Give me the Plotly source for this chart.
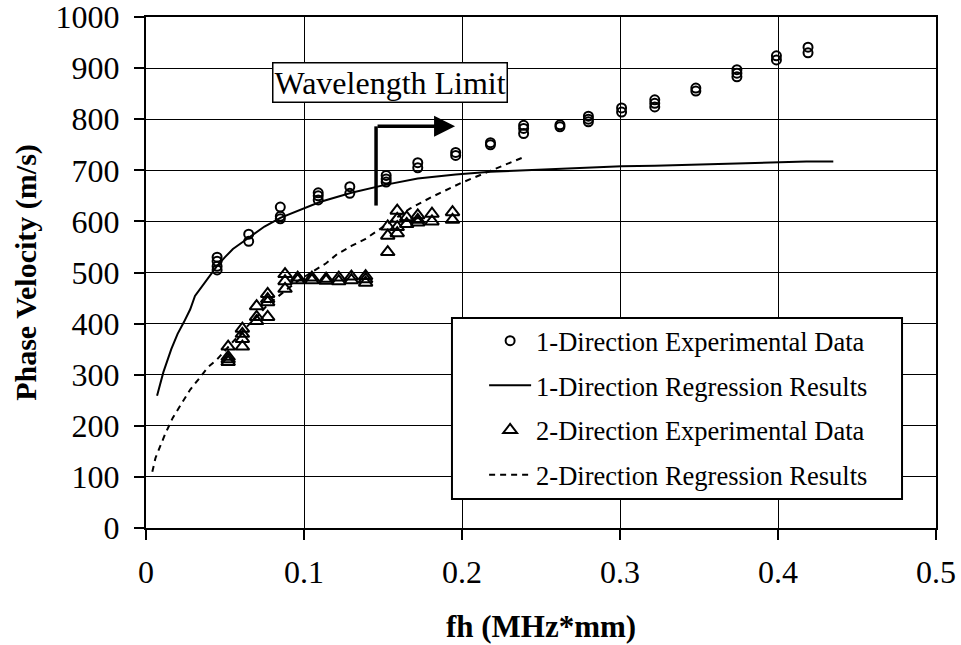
import plotly.graph_objects as go

# 1-direction measurements (fh in MHz*mm, phase velocity in m/s)
dir1_x = [0.045, 0.045, 0.045, 0.045, 0.065, 0.065, 0.085, 0.085, 0.085,
          0.109, 0.109, 0.109, 0.129, 0.129, 0.152, 0.152, 0.152, 0.172, 0.172,
          0.196, 0.196, 0.218, 0.218, 0.239, 0.239, 0.239, 0.262, 0.262,
          0.280, 0.280, 0.280, 0.301, 0.301, 0.322, 0.322, 0.322, 0.348, 0.348,
          0.374, 0.374, 0.374, 0.399, 0.399, 0.419, 0.419]
dir1_y = [530, 522, 512, 505, 575, 561, 628, 610, 605,
          656, 650, 642, 668, 655, 690, 683, 677, 715, 705,
          735, 729, 754, 750, 788, 782, 772, 789, 785,
          806, 800, 795, 822, 814, 838, 831, 824, 861, 855,
          897, 890, 883, 924, 916, 941, 930]

# 1-direction regression curve
fit1_x = [0.007, 0.011, 0.016, 0.020, 0.024, 0.028, 0.031, 0.036, 0.041, 0.045,
          0.050, 0.055, 0.065, 0.075, 0.085, 0.095, 0.110, 0.130, 0.152, 0.172,
          0.196, 0.218, 0.239, 0.262, 0.280, 0.301, 0.322, 0.348, 0.374, 0.399,
          0.418, 0.435]
fit1_y = [259, 305, 350, 380, 403, 428, 454, 475, 495, 513,
          530, 546, 568, 590, 607, 620, 638, 656, 672, 684,
          692, 697, 700, 703, 705, 708, 709, 711, 713, 716,
          717, 717]

# 2-direction measurements
dir2_x = [0.052, 0.052, 0.052, 0.052, 0.061, 0.061, 0.061, 0.061,
          0.070, 0.070, 0.070, 0.077, 0.077, 0.077, 0.077, 0.088, 0.088, 0.088,
          0.096, 0.096, 0.105, 0.105, 0.114, 0.114, 0.122, 0.122, 0.130, 0.130,
          0.139, 0.139, 0.139, 0.153, 0.153, 0.153, 0.159, 0.159, 0.159, 0.159,
          0.165, 0.165, 0.172, 0.172, 0.172, 0.181, 0.181, 0.194, 0.194]
dir2_y = [355, 335, 330, 325, 390, 380, 370, 355,
          434, 413, 405, 458, 448, 442, 413, 497, 483, 468,
          490, 485, 490, 485, 488, 484, 490, 483, 492, 485,
          493, 487, 480, 590, 572, 540, 621, 605, 589, 577,
          608, 595, 612, 603, 598, 615, 600, 618, 603]

# 2-direction regression curve
fit2_x = [0.004, 0.006, 0.009, 0.012, 0.017, 0.023, 0.028, 0.034, 0.039, 0.045,
          0.052, 0.061, 0.070, 0.077, 0.088, 0.096, 0.106, 0.114, 0.121, 0.130,
          0.139, 0.153, 0.167, 0.181, 0.194, 0.200, 0.218, 0.240]
fit2_y = [110, 137, 160, 183, 216, 245, 271, 294, 314, 330,
          355, 385, 413, 437, 464, 483, 503, 518, 536, 552,
          566, 595, 625, 648, 668, 676, 699, 727]

# Wavelength-limit marker
limit_x = 0.1456
limit_tip_x = 0.1956
limit_top = 786
limit_bottom = 631

x_ticks = [0, 0.1, 0.2, 0.3, 0.4, 0.5]
x_tick_text = ["0", "0.1", "0.2", "0.3", "0.4", "0.5"]
y_ticks = [0, 100, 200, 300, 400, 500, 600, 700, 800, 900, 1000]

SERIF = "Liberation Serif"

fig = go.Figure()

fig.add_trace(go.Scatter(
    x=dir1_x, y=dir1_y, mode="markers", name="1-Direction Experimental Data",
    legendgroup="a",
    marker=dict(symbol="circle-open", size=9, color="black", line=dict(width=2, color="black")),
))
fig.add_trace(go.Scatter(
    x=fit1_x, y=fit1_y, mode="lines", name="1-Direction Regression Results",
    legendgroup="b",
    line=dict(color="black", width=2),
))
fig.add_trace(go.Scatter(
    x=dir2_x, y=dir2_y, mode="markers", name="2-Direction Experimental Data",
    legendgroup="c",
    marker=dict(symbol="triangle-up-open", size=12, color="black", line=dict(width=2, color="black")),
))
fig.add_trace(go.Scatter(
    x=fit2_x, y=fit2_y, mode="lines", name="2-Direction Regression Results",
    legendgroup="d",
    line=dict(color="black", width=2, dash="6px,5px"),
))

# vertical bar of the wavelength-limit marker
fig.add_shape(type="line", x0=limit_x, x1=limit_x, y0=limit_bottom, y1=limit_top,
              xref="x", yref="y", line=dict(color="black", width=3.5))
# horizontal arrow pointing to larger fh
fig.add_annotation(x=limit_tip_x, y=limit_top, ax=limit_x, ay=limit_top,
                   xref="x", yref="y", axref="x", ayref="y", text="",
                   showarrow=True, arrowhead=2, arrowsize=1.2, arrowwidth=3.5,
                   arrowcolor="black")
fig.add_annotation(x=0.1547, y=871, xref="x", yref="y", text="Wavelength Limit",
                   showarrow=False, font=dict(family=SERIF, size=32, color="black"),
                   bgcolor="white", bordercolor="black", borderwidth=1.5, borderpad=1)

# framed white panel behind the legend entries
fig.add_shape(type="rect", xref="paper", yref="paper",
              x0=0.3873, x1=0.957, y0=0.0568, y1=0.411,
              fillcolor="white", line=dict(color="black", width=2), layer="above")

axis_common = dict(
    showgrid=True, gridcolor="black", gridwidth=1.3,
    showline=True, linecolor="black", linewidth=2, mirror=True,
    ticks="outside", ticklen=10, tickwidth=1.5, tickcolor="black",
    tickfont=dict(family=SERIF, size=32, color="black"),
    ticklabeloverflow="allow",
    zeroline=False,
)

fig.update_xaxes(
    range=[0, 0.5], tickvals=x_ticks, ticktext=x_tick_text,
    title=dict(text="<b>fh (MHz*mm)</b>", font=dict(family=SERIF, size=31, color="black"), standoff=26),
    ticklabelstandoff=5,
    **axis_common,
)
fig.update_yaxes(
    range=[0, 1000], tickvals=y_ticks,
    title=dict(text="<b>Phase Velocity (m/s)</b>", font=dict(family=SERIF, size=30, color="black"), standoff=10),
    ticklabelstandoff=8,
    **axis_common,
)

fig.update_layout(
    width=961, height=645,
    margin=dict(l=146, r=25, t=17, b=117, autoexpand=False),
    plot_bgcolor="white", paper_bgcolor="white",
    legend=dict(
        x=0.428, y=0.413, xanchor="left", yanchor="top",
        bgcolor="rgba(0,0,0,0)", borderwidth=0,
        font=dict(family=SERIF, size=26.5, color="black"),
        traceorder="grouped", tracegroupgap=7.2, itemwidth=42,
    ),
    showlegend=True,
)

fig.write_html("out.html")
